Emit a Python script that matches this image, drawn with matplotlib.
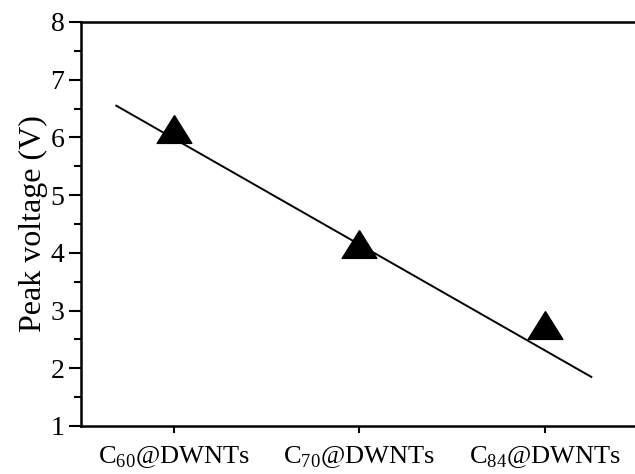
import matplotlib
matplotlib.use("Agg")
import matplotlib.pyplot as plt
from matplotlib.ticker import MultipleLocator

plt.rcParams['font.family'] = ['Liberation Serif', 'DejaVu Serif']
plt.rcParams['mathtext.fontset'] = 'custom'
plt.rcParams['mathtext.rm'] = 'Liberation Serif'

# peapod samples and measured peak voltages
samples = [r'C$_{60}$@DWNTs', r'C$_{70}$@DWNTs', r'C$_{84}$@DWNTs']
positions = [1, 2, 3]
peak_voltage = [6.15, 4.15, 2.75]

# guide line drawn through the points
guide_x = [0.69, 3.25]
guide_y = [6.55, 1.85]

fig = plt.figure(figsize=(6.35, 4.74), dpi=100)
ax = fig.add_axes([0.1276, 0.1013, 0.8767, 0.8523])

ax.plot(guide_x, guide_y, color='black', lw=1.4, zorder=2)
# wide, squat triangle
tri = [(0, 1), (-1.25, -1), (1.25, -1), (0, 1)]
ax.plot(positions, peak_voltage, ls='none', marker=tri, ms=25,
        color='black', zorder=3)

ax.set_xlim(0.5, 3.5)
ax.set_ylim(1, 8)
ax.set_xticks(positions)
ax.set_xticklabels(samples, fontsize=19)
ax.yaxis.set_major_locator(MultipleLocator(1))
ax.yaxis.set_minor_locator(MultipleLocator(0.5))
ax.tick_params(axis='y', which='major', length=9, width=1.5, labelsize=20, pad=3)
ax.tick_params(axis='y', which='minor', length=5, width=1.5)
ax.tick_params(axis='x', which='major', length=5, width=1.5, pad=8)
ax.set_ylabel('Peak voltage (V)', fontsize=23, labelpad=2)

for side in ['left', 'bottom', 'top']:
    ax.spines[side].set_linewidth(1.8)
ax.spines['right'].set_visible(False)

fig.savefig('out.png', dpi=100)
